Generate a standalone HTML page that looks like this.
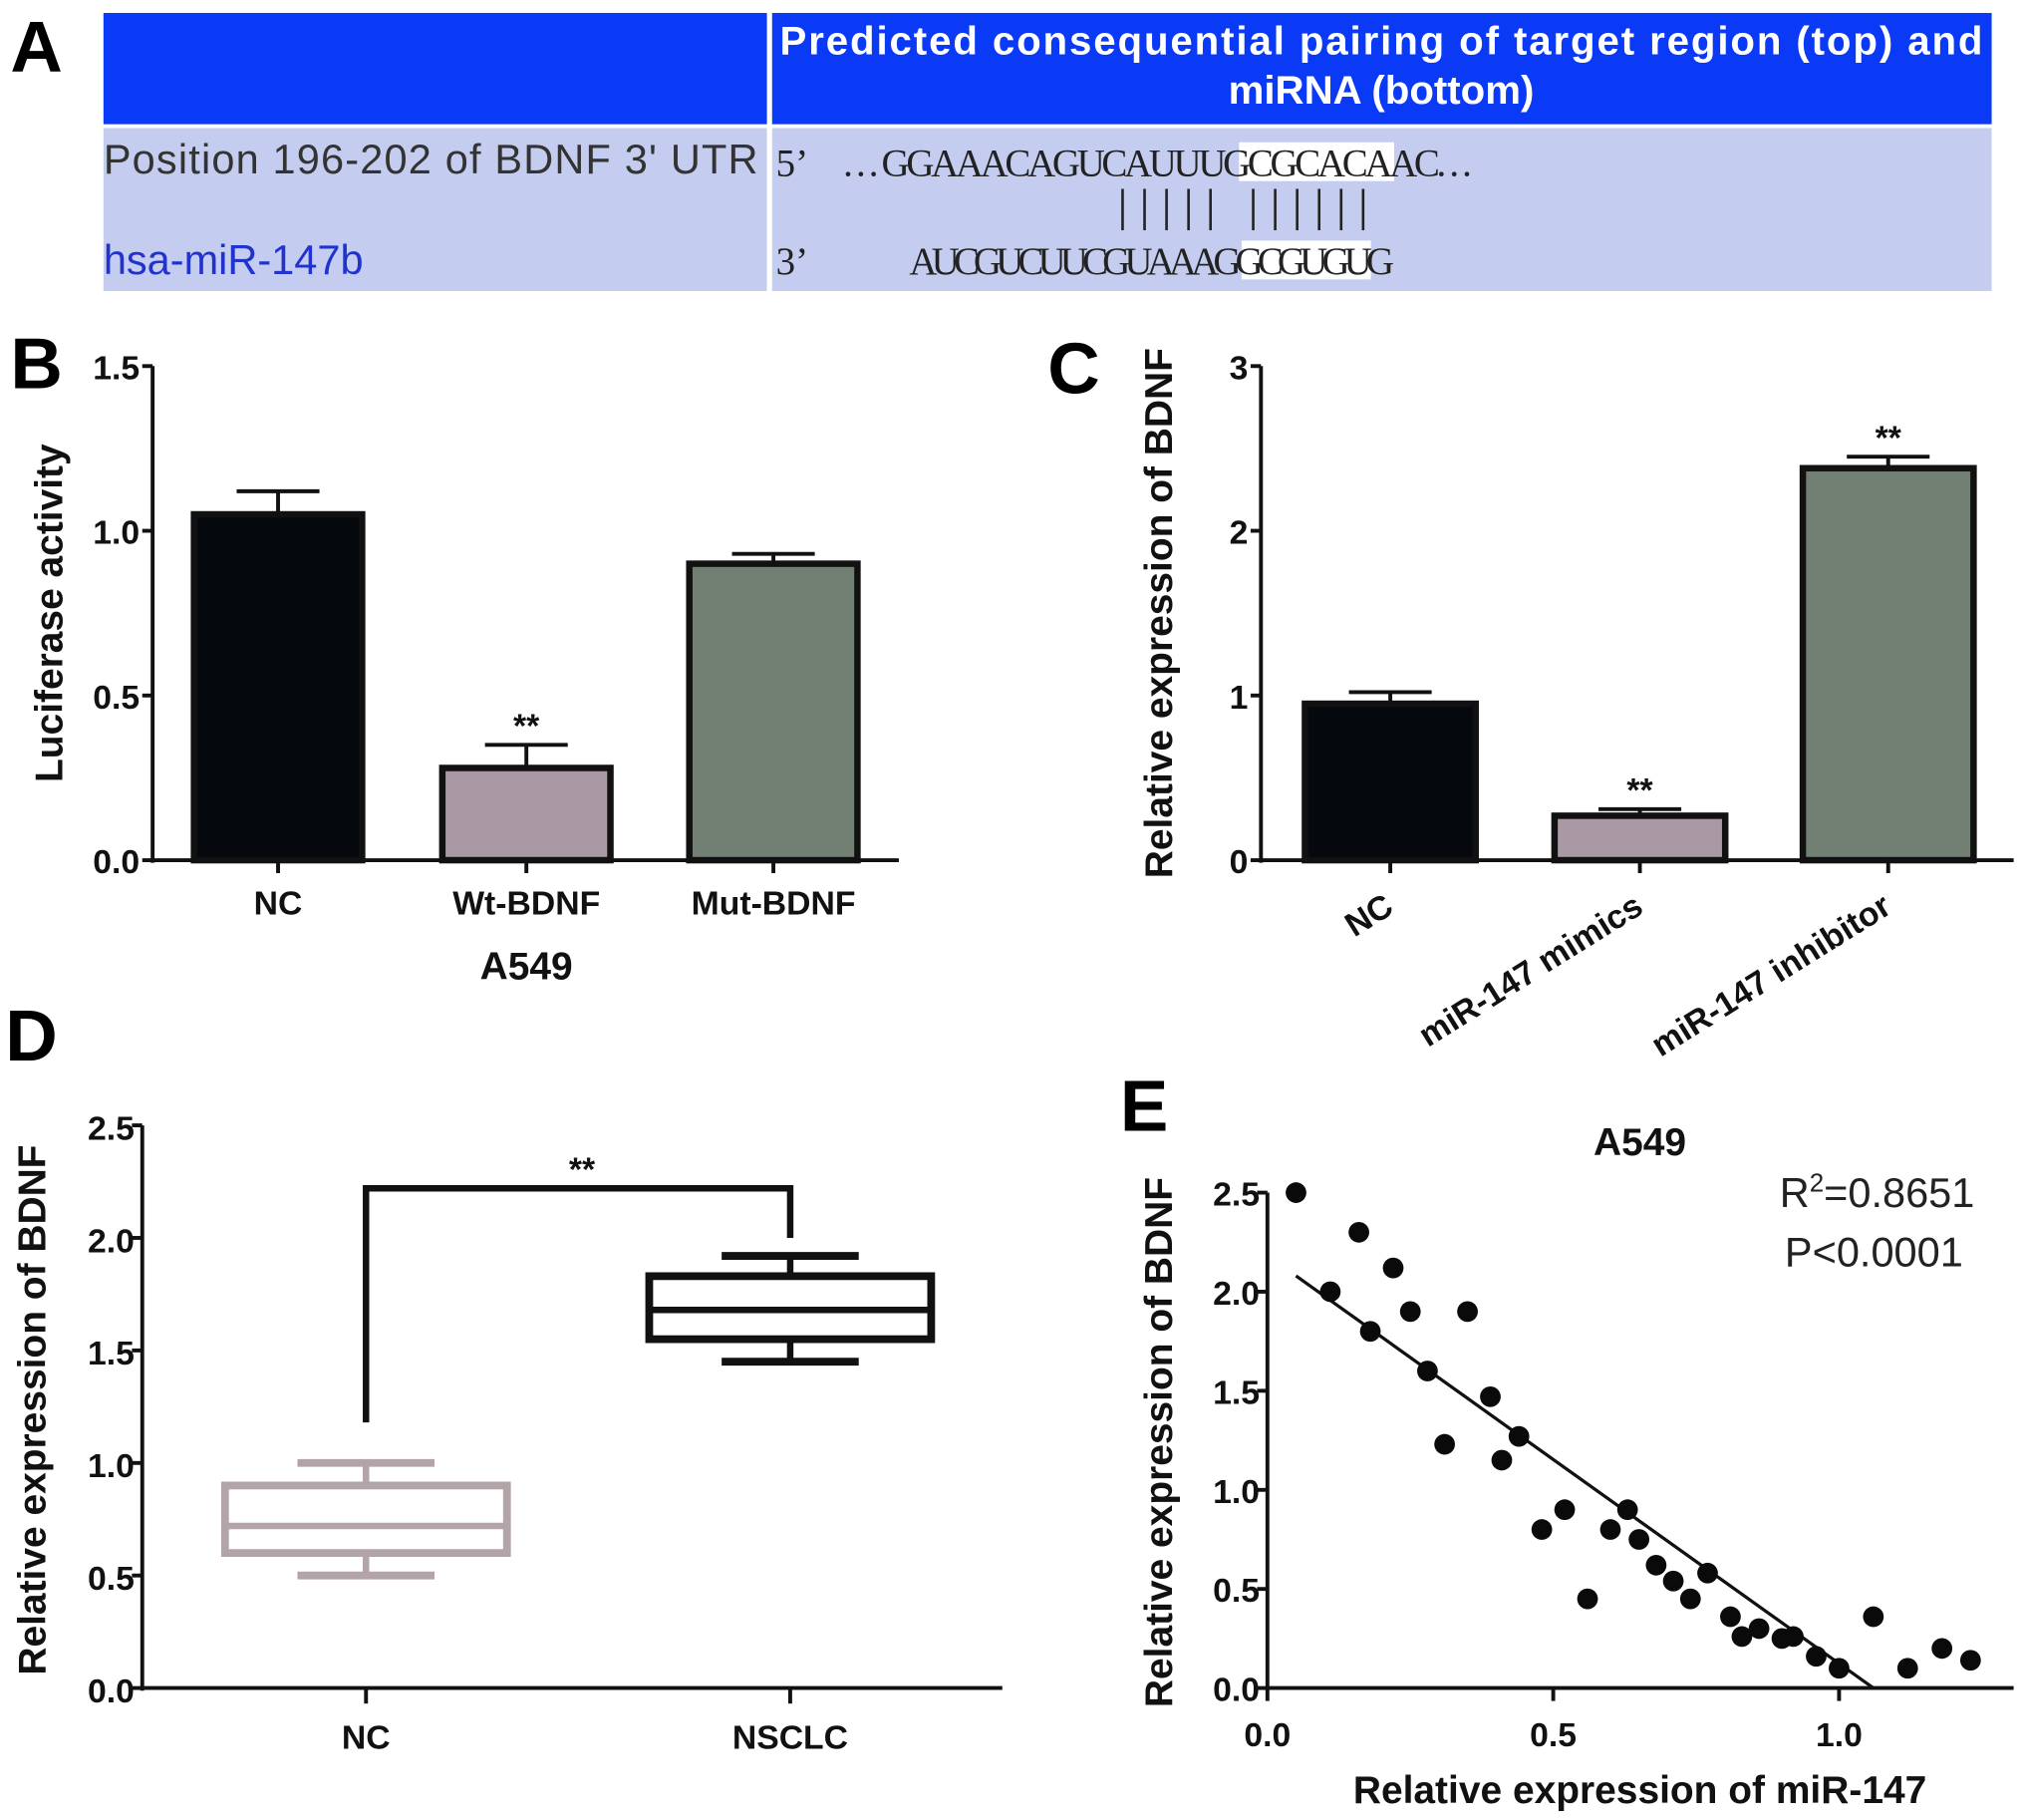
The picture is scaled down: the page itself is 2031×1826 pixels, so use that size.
<!DOCTYPE html>
<html><head><meta charset="utf-8"><style>
html,body{margin:0;padding:0;background:#fff}
svg{display:block}
text{font-family:"Liberation Sans",Arial,sans-serif}
text.serif{font-family:"Liberation Serif","Times New Roman",serif}
.t{font-weight:bold;font-size:26px;fill:#111}
.pl{font-weight:bold;font-size:56px;fill:#000}
.ttl{font-weight:bold;font-size:30px;fill:#111}
</style></head><body>
<svg id="fig" width="2031" height="1826" viewBox="0 0 1565 1407" xmlns="http://www.w3.org/2000/svg">
<g id="panelA">
<text class="pl" x="8" y="55">A</text>
<rect x="80" y="10" width="1460" height="86" fill="#0a3af6"/>
<rect x="80" y="99" width="1460" height="126" fill="#c4cdef"/>
<rect x="593" y="10" width="4" height="215" fill="#fff"/>
<text x="1068" y="42" text-anchor="middle" font-weight="bold" font-size="31" fill="#fff" textLength="930">Predicted consequential pairing of target region (top) and</text>
<text x="1068" y="80" text-anchor="middle" font-weight="bold" font-size="31" fill="#fff">miRNA (bottom)</text>
<text x="80" y="134" font-size="32" fill="#333" textLength="506">Position 196-202 of BDNF 3' UTR</text>
<text x="80" y="212" font-size="32" fill="#2233cc">hsa-miR-147b</text>
<rect x="958" y="110" width="120" height="30" fill="#fff"/>
<rect x="960" y="186" width="100" height="30" fill="#fff"/>
<text class="serif" x="600" y="136" font-size="30" fill="#222">5’</text>
<text class="serif" x="652" y="136" font-size="30" fill="#222" textLength="486">. . . GGAAACAGUCAUUUGCGCACAAC. . .</text>
<text class="serif" x="600" y="212" font-size="30" fill="#222">3’</text>
<text class="serif" x="703" y="212" font-size="30" fill="#222" textLength="375">AUCGUCUUCGUAAAGGCGUGUG</text>
<g id="pairs" stroke="#222" stroke-width="2"></g>
</g>
<g id="panelB">
<text class="pl" x="8" y="300">B</text>
<text class="ttl" transform="translate(48,474) rotate(-90)" text-anchor="middle">Luciferase activity</text>
<text class="ttl" x="407" y="757" text-anchor="middle">A549</text>
</g>
<g id="panelC">
<text class="pl" x="810" y="304">C</text>
<text class="ttl" transform="translate(906,474) rotate(-90)" text-anchor="middle" font-size="31">Relative expression of BDNF</text>
</g>
<g id="panelD">
<text class="pl" x="4" y="820">D</text>
<text class="ttl" transform="translate(35,1090) rotate(-90)" text-anchor="middle" font-size="34">Relative expression of BDNF</text>
</g>
<g id="panelE">
<text class="pl" x="866" y="874">E</text>
<text class="ttl" x="1268" y="893" text-anchor="middle">A549</text>
<text x="1376" y="933" font-size="32" fill="#222">R<tspan dy="-12" font-size="20">2</tspan><tspan dy="12">=0.8651</tspan></text>
<text x="1380" y="979" font-size="32" fill="#222">P&lt;0.0001</text>
<text class="ttl" transform="translate(906,1115) rotate(-90)" text-anchor="middle" font-size="31">Relative expression of BDNF</text>
<text class="ttl" x="1268" y="1394" text-anchor="middle">Relative expression of miR-147</text>
</g>
</svg>
<script>
const NS='http://www.w3.org/2000/svg';
// Panel B data
const bCats=['NC','Wt-BDNF','Mut-BDNF'];
const bVals=[1.05,0.28,0.90];
const bErr=[0.07,0.07,0.03];
const bTicks=['0.0','0.5','1.0','1.5'];
const bStars=['','**',''];
// Panel C data
const cCats=['NC','miR-147 mimics','miR-147 inhibitor'];
const cVals=[0.95,0.27,2.38];
const cErr=[0.07,0.04,0.07];
const cTicks=['0','1','2','3'];
const cStars=['','**','**'];
// Panel D data
const dCats=['NC','NSCLC'];
const dMin=[0.50,1.45];
const dQ1=[0.60,1.55];
const dMed=[0.72,1.68];
const dQ3=[0.90,1.83];
const dMax=[1.00,1.92];
const dTicks=['0.0','0.5','1.0','1.5','2.0','2.5'];
// Panel E data
const eX=[0.05,0.11,0.16,0.18,0.22,0.25,0.28,0.35,0.31,0.39,0.44,0.41,0.48,0.52,0.56,0.60,0.63,0.65,0.68,0.71,0.74,0.77,0.81,0.83,0.86,0.90,0.92,0.96,1.00,1.06,1.12,1.18,1.23];
const eY=[2.50,2.00,2.30,1.80,2.12,1.90,1.60,1.90,1.23,1.47,1.27,1.15,0.80,0.90,0.45,0.80,0.90,0.75,0.62,0.54,0.45,0.58,0.36,0.26,0.30,0.25,0.26,0.16,0.10,0.36,0.10,0.20,0.14];
const eFitX=[0.05,1.06];
const eFitY=[2.08,0.0];
const eXTicks=['0.0','0.5','1.0'];
const eYTicks=['0.0','0.5','1.0','1.5','2.0','2.5'];

function mk(tag,attrs,parent){const e=document.createElementNS(NS,tag);for(const k in attrs)e.setAttribute(k,attrs[k]);parent.appendChild(e);return e;}
function txt(s,attrs,parent){const e=mk('text',attrs,parent);e.textContent=s;return e;}

(function(){const g=document.getElementById('pairs');const xs=[868,885,902,919,936,969,986,1003,1020,1037,1054];
xs.forEach(x=>{const l=mk('line',{x1:x,x2:x,y1:146,y2:178},g);});})();

function barChart(gid,cats,vals,errs,ticks,stars,ax,yBot,yTop,xEnd,maxV,centers,bw,colors,rotate,pfx){
  const g=document.getElementById(gid);
  const y=v=>yBot-(v/maxV)*(yBot-yTop);
  const ya=mk('line',{x1:ax,x2:ax,y1:yTop,y2:yBot+2,stroke:'#111','stroke-width':3},g);
  
  const xa=mk('line',{x1:ax,x2:xEnd,y1:yBot,y2:yBot,stroke:'#111','stroke-width':3},g);
  
  ticks.forEach((t,i)=>{const v=parseFloat(t);const yy=y(v);
    const tl=mk('line',{x1:ax-8,x2:ax,y1:yy,y2:yy,stroke:'#111','stroke-width':3},g);
    
    const tt=txt(t,{x:ax-10,y:yy+10,'text-anchor':'end',class:'t'},g);
    });
  cats.forEach((c,i)=>{const cx=centers[i];const top=y(vals[i]);
    const el=mk('line',{x1:cx,x2:cx,y1:y(vals[i]+errs[i]),y2:top,stroke:'#111','stroke-width':3},g);
    
    const ec=mk('line',{x1:cx-32,x2:cx+32,y1:y(vals[i]+errs[i]),y2:y(vals[i]+errs[i]),stroke:'#111','stroke-width':3},g);
    
    const r=mk('rect',{x:cx-bw/2,y:top,width:bw,height:yBot-top,fill:colors[i],stroke:'#111','stroke-width':5},g);
    
    const tk=mk('line',{x1:cx,x2:cx,y1:yBot,y2:yBot+10,stroke:'#111','stroke-width':3},g);
    
    if(stars[i]){const s=txt(stars[i],{x:cx,y:y(vals[i]+errs[i])-6,'text-anchor':'middle',class:'t','font-size':'32'},g);
      }
    let lab;
    if(rotate){lab=txt(c,{x:0,y:0,'text-anchor':'end',class:'t','font-size':'28',transform:'translate('+(cx+4)+','+(yBot+40)+') rotate(-32)'},g);}
    else lab=txt(c,{x:cx,y:yBot+42,'text-anchor':'middle',class:'t','font-size':'28'},g);
    
  });
}
barChart('panelB',bCats,bVals,bErr,bTicks,bStars,118,665,283,695,1.5,[215,407,598],130,['#05080c','#a999a5','#718073'],false,'b');
barChart('panelC',cCats,cVals,cErr,cTicks,cStars,975,665,283,1557,3,[1075,1268,1460],132,['#05080c','#a999a5','#718073'],true,'c');

(function(){const g=document.getElementById('panelD');const ax=110,yBot=1305,yTop=870;
  const y=v=>yBot-(v/2.5)*(yBot-yTop);
  const ya=mk('line',{x1:ax,x2:ax,y1:yTop,y2:yBot+2,stroke:'#111','stroke-width':3},g);
  const xa=mk('line',{x1:ax,x2:775,y1:yBot,y2:yBot,stroke:'#111','stroke-width':3},g);
  dTicks.forEach(t=>{const yy=y(parseFloat(t));
    const tl=mk('line',{x1:ax-8,x2:ax,y1:yy,y2:yy,stroke:'#111','stroke-width':3},g);
    const tt=txt(t,{x:ax-6,y:yy+11,'text-anchor':'end',class:'t','font-size':'29'},g);});
  const centers=[283,611],cols=['#b3a4a8','#111'];
  dCats.forEach((c,i)=>{const cx=centers[i],col=cols[i];
    const wl=mk('line',{x1:cx,x2:cx,y1:y(dMin[i]),y2:y(dMax[i]),stroke:col,'stroke-width':5},g);
    [dMin[i],dMax[i]].forEach(v=>{const cp=mk('line',{x1:cx-53,x2:cx+53,y1:y(v),y2:y(v),stroke:col,'stroke-width':6},g);});
    const b=mk('rect',{x:cx-109,y:y(dQ3[i]),width:218,height:y(dQ1[i])-y(dQ3[i]),fill:'#fff',stroke:col,'stroke-width':6},g);
    const m=mk('line',{x1:cx-109,x2:cx+109,y1:y(dMed[i]),y2:y(dMed[i]),stroke:col,'stroke-width':5},g);
    const tk=mk('line',{x1:cx,x2:cx,y1:yBot,y2:yBot+12,stroke:'#111','stroke-width':3},g);
    const lb=txt(c,{x:cx,y:yBot+47,'text-anchor':'middle',class:'t','font-size':'32'},g);});
  const br=mk('path',{d:'M283 '+y(1.18)+' V'+y(2.22)+' H611 V'+y(2.0),fill:'none',stroke:'#111','stroke-width':5},g);
  const st=txt('**',{x:450,y:y(2.22)-6,'text-anchor':'middle',class:'t','font-size':'36'},g);
})();

(function(){const g=document.getElementById('panelE');const ax=980,yBot=1305,yTop=922;
  const y=v=>yBot-(v/2.5)*(yBot-yTop);const x=v=>ax+v*442;
  const ya=mk('line',{x1:ax,x2:ax,y1:yTop,y2:yBot+2,stroke:'#111','stroke-width':3},g);
  const xa=mk('line',{x1:ax,x2:1557,y1:yBot,y2:yBot,stroke:'#111','stroke-width':3},g);
  eYTicks.forEach(t=>{const yy=y(parseFloat(t));
    const tl=mk('line',{x1:ax-8,x2:ax,y1:yy,y2:yy,stroke:'#111','stroke-width':3},g);
    const tt=txt(t,{x:ax-6,y:yy+10,'text-anchor':'end',class:'t'},g);});
  eXTicks.forEach(t=>{const xx=x(parseFloat(t));
    const tl=mk('line',{x1:xx,x2:xx,y1:yBot,y2:yBot+10,stroke:'#111','stroke-width':3},g);
    const tt=txt(t,{x:xx,y:yBot+45,'text-anchor':'middle',class:'t'},g);});
  const fl=mk('line',{x1:x(eFitX[0]),y1:y(eFitY[0]),x2:x(eFitX[1]),y2:y(eFitY[1]),stroke:'#111','stroke-width':2.5},g);
  eX.forEach((v,i)=>{const c=mk('circle',{cx:x(v),cy:y(eY[i]),r:8,fill:'#0a0a0a'},g);});
})();
</script>
</body></html>
